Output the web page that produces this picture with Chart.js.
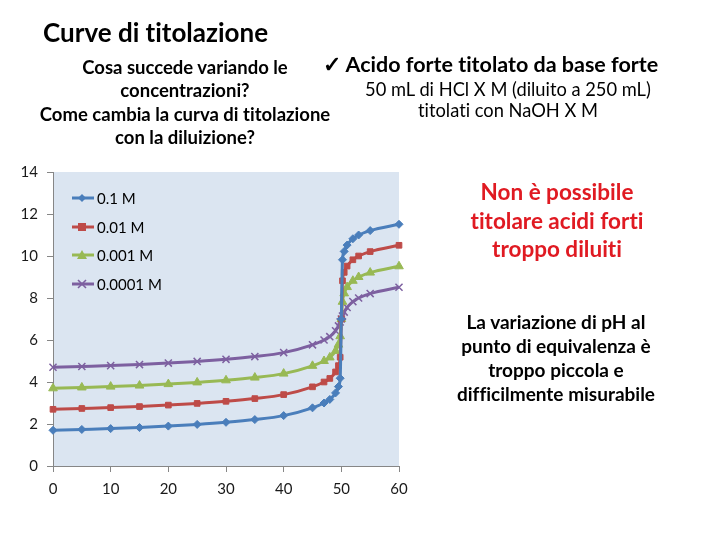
<!DOCTYPE html>
<html>
<head>
<meta charset="utf-8">
<script src="https://cdn.jsdelivr.net/npm/chart.js@4.4.1/dist/chart.umd.min.js"></script>
<style>
    html, body { margin: 0; padding: 0; background: #fff; }
    #stage { position: relative; width: 720px; height: 540px; overflow: hidden; font-family: Lato, "Open Sans", sans-serif; color: #000; font-variant-ligatures: none; }
    #chartBox { position: absolute; left: 0; top: 0; width: 720px; height: 540px; }
    .txt { position: absolute; white-space: nowrap; }
    .center { transform: translateX(-50%); text-align: center; }
    .legend { position: absolute; left: 71px; top: 184px; font-size: 15px; }
    .legend-item { display: flex; align-items: center; height: 28.6px; }
    .legend-item svg { margin-right: 2px; }
</style>
</head>
<body>
<div id="stage">
    <div id="chartBox"><canvas id="titrationChart" width="720" height="540"></canvas></div>

    <div class="txt" style="left:43px; top:17px; font-size:26px; line-height:30px; font-weight:700;">Curve di titolazione</div>

    <div class="txt center" style="left:185px; top:56px; font-size:18.5px; font-weight:700; line-height:23.3px;">
        Cosa succede variando le<br>concentrazioni?<br>Come cambia la curva di titolazione<br>con la diluizione?
    </div>

    <div class="txt" style="left:323px; top:51px; font-size:21.5px; line-height:26px; font-weight:700;">&#10003; Acido forte titolato da base forte</div>
    <div class="txt center" style="left:508px; top:79px; font-size:18.3px; line-height:21px;">
        50 mL di HCl X M (diluito a 250 mL)<br>titolati con NaOH X M
    </div>

    <div class="txt center" style="left:557px; top:178px; font-size:22.5px; font-weight:700; color:#e01a22; line-height:28.5px;">
        Non è possibile<br>titolare acidi forti<br>troppo diluiti
    </div>

    <div class="txt center" style="left:556px; top:310px; font-size:19px; font-weight:700; line-height:24px;">
        La variazione di pH al<br>punto di equivalenza è<br>troppo piccola e<br>difficilmente misurabile
    </div>

    <div class="legend" id="legendBox"></div>
</div>

<script>
    // mL of NaOH added
    const volumes = [0, 5, 10, 15, 20, 25, 30, 35, 40, 45, 47, 48, 49, 49.5, 49.8, 50, 50.2, 50.5, 51, 52, 53, 55, 60];

    // pH
    const ph01 = [1.70, 1.74, 1.78, 1.83, 1.90, 1.98, 2.08, 2.21, 2.40, 2.77, 3.00, 3.17, 3.48, 3.78, 4.18, 7.00, 9.82, 10.22, 10.52, 10.82, 11.00, 11.21, 11.51];
    const ph001 = [2.70, 2.74, 2.78, 2.83, 2.90, 2.98, 3.08, 3.21, 3.40, 3.77, 4.00, 4.17, 4.48, 4.78, 5.18, 7.00, 8.82, 9.22, 9.52, 9.82, 10.00, 10.21, 10.51];
    const ph0001 = [3.70, 3.74, 3.78, 3.83, 3.90, 3.98, 4.08, 4.21, 4.40, 4.77, 5.00, 5.17, 5.48, 5.78, 6.18, 7.00, 7.82, 8.22, 8.52, 8.82, 9.00, 9.21, 9.51];
    const ph00001 = [4.70, 4.74, 4.78, 4.83, 4.90, 4.98, 5.08, 5.21, 5.40, 5.77, 6.00, 6.16, 6.44, 6.67, 6.86, 7.00, 7.14, 7.33, 7.55, 7.83, 8.00, 8.21, 8.51];

    const seriesLabels = ['0.1 M', '0.01 M', '0.001 M', '0.0001 M'];
    const seriesValues = [ph01, ph001, ph0001, ph00001];
    const seriesColors = ['#4a7ebb', '#be4b48', '#98b954', '#7d60a0'];
    const seriesMarkers = ['rectRot', 'rect', 'triangle', 'crossRot'];
    const markerSizes = [4, 4, 5, 5];

    const xTicks = [0, 10, 20, 30, 40, 50, 60];
    const yTicks = [0, 2, 4, 6, 8, 10, 12, 14];

    // plot area frame (px)
    const area = { left: 53, top: 172, right: 399, bottom: 466 };

    const plotBackground = {
        id: 'plotBackground',
        beforeDraw(chart) {
            const { ctx, chartArea } = chart;
            ctx.save();
            ctx.fillStyle = '#dbe5f1';
            ctx.fillRect(chartArea.left, chartArea.top, chartArea.right - chartArea.left, chartArea.bottom - chartArea.top);
            ctx.restore();
        }
    };

    const datasets = seriesLabels.map((label, s) => ({
        label: label,
        data: volumes.map((v, i) => ({ x: v, y: seriesValues[s][i] })),
        showLine: true,
        borderColor: seriesColors[s],
        backgroundColor: seriesColors[s],
        borderWidth: 3,
        cubicInterpolationMode: 'monotone',
        pointStyle: seriesMarkers[s],
        pointRadius: markerSizes[s],
        pointBorderWidth: s === 3 ? 1.5 : 1,
        pointBackgroundColor: seriesColors[s],
        pointBorderColor: seriesColors[s],
        clip: false
    }));

    const tickFont = { family: 'Lato, "Open Sans", sans-serif', size: 15 };

    new Chart(document.getElementById('titrationChart'), {
        type: 'scatter',
        data: { datasets: datasets },
        options: {
            responsive: false,
            animation: false,
            devicePixelRatio: 1,
            layout: { padding: { left: 0, top: area.top, right: 720 - area.right, bottom: 0 } },
            plugins: { legend: { display: false }, tooltip: { enabled: false } },
            scales: {
                x: {
                    type: 'linear',
                    min: 0, max: 60,
                    afterBuildTicks: (scale) => { scale.ticks = xTicks.map(v => ({ value: v })); },
                    afterFit: (scale) => { scale.height = 540 - area.bottom; },
                    grid: { display: true, drawOnChartArea: false, drawTicks: true, tickLength: 6, color: '#868686' },
                    border: { display: true, color: '#868686', width: 1 },
                    ticks: { font: tickFont, color: '#1a1a1a', padding: 8, maxRotation: 0 }
                },
                y: {
                    type: 'linear',
                    min: 0, max: 14,
                    afterBuildTicks: (scale) => { scale.ticks = yTicks.map(v => ({ value: v })); },
                    afterFit: (scale) => { scale.width = area.left; },
                    grid: { display: true, drawOnChartArea: false, drawTicks: true, tickLength: 6, color: '#868686' },
                    border: { display: true, color: '#868686', width: 1 },
                    ticks: { font: tickFont, color: '#1a1a1a', padding: 9 }
                }
            }
        },
        plugins: [plotBackground]
    });

    // legend drawn as html, sitting inside the plot area
    const markerSvg = (style, color) => {
        if (style === 'rectRot') return `<polygon points="11,2 15,6 11,10 7,6" fill="${color}"/>`;
        if (style === 'rect') return `<rect x="7" y="2" width="8" height="8" fill="${color}"/>`;
        if (style === 'triangle') return `<polygon points="11,1 16,10 6,10" fill="${color}"/>`;
        return `<path d="M7 2 L15 10 M15 2 L7 10" stroke="${color}" stroke-width="1.6"/>`;
    };
    document.getElementById('legendBox').innerHTML = seriesLabels.map((label, s) => `
        <div class="legend-item">
            <svg width="24" height="12"><line x1="1" y1="6" x2="23" y2="6" stroke="${seriesColors[s]}" stroke-width="3"/>${markerSvg(seriesMarkers[s], seriesColors[s])}</svg>
            <span>${label}</span>
        </div>
    `).join('');
</script>
</body>
</html>
